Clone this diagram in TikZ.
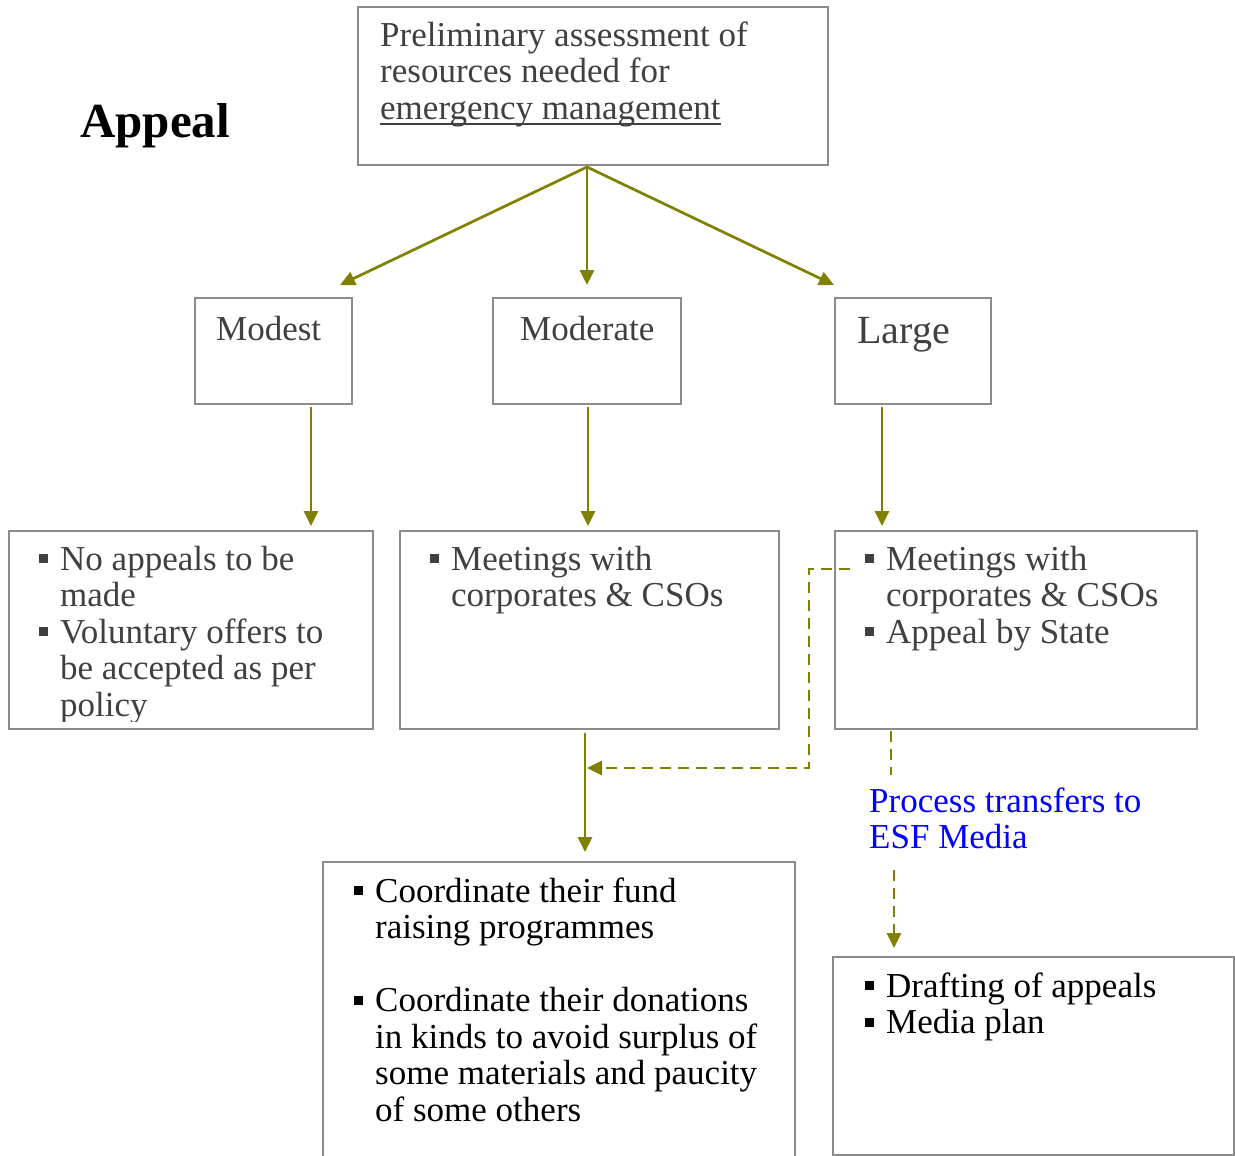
\documentclass[tikz,border=0pt]{standalone}
\usepackage{fontspec}
\setmainfont{Liberation Serif}
\usetikzlibrary{arrows.meta,calc}

\definecolor{olivearrow}{HTML}{808000}
\definecolor{boxgray}{HTML}{8C8C8C}
\definecolor{txtgray}{HTML}{404040}
\definecolor{linkblue}{HTML}{0000FF}

% strut that fixes the top of every text block 30pt above its first baseline
\newcommand\firstln{\rule{0pt}{30pt}}
% square bullet hanging to the left of the text column
\newcommand\bulitem{\llap{\rule[7pt]{9pt}{9pt}\hspace{12pt}}}
% underline that runs through the descenders
\newcommand\ulwords[1]{\setbox0\hbox{#1}\rlap{\rule[-5.5pt]{\wd0}{1.6pt}}\box0}

\begin{document}
\begin{tikzpicture}[x=1pt, y=-1pt,
  box/.style={draw=boxgray, line width=2pt, inner sep=0pt, outer sep=0pt, anchor=north west},
  txt/.style={anchor=north west, inner sep=0pt, align=left,
              font=\fontsize{35}{36.5}\selectfont, text=txtgray},
  dark/.style={txt, text=black},
  arr/.style={draw=olivearrow, line width=2.7pt, -{Triangle[length=15pt,width=14pt]}},
  dsh/.style={arr, dash pattern=on 11pt off 7pt},
  dline/.style={draw=olivearrow, line width=2.7pt, dash pattern=on 11pt off 7pt}]

\useasboundingbox (0,0) rectangle (1235,1156);
\clip (0,0) rectangle (1235,1156);

% boxes
\node[box, minimum width=470pt, minimum height=158pt] (top) at (358,7) {};
\node[box, minimum width=157pt, minimum height=106pt] (modest) at (195,298) {};
\node[box, minimum width=188pt, minimum height=106pt] (moderate) at (493,298) {};
\node[box, minimum width=156pt, minimum height=106pt] (large) at (835,298) {};
\node[box, minimum width=364pt, minimum height=198pt] (l1) at (9,531) {};
\node[box, minimum width=379pt, minimum height=198pt] (m1) at (400,531) {};
\node[box, minimum width=362pt, minimum height=198pt] (r1) at (835,531) {};
\node[box, minimum width=472pt, minimum height=320pt] (m2) at (323,862) {};
\node[box, minimum width=401pt, minimum height=198pt] (r2) at (833,957) {};

% title
\node[anchor=north west, inner sep=0pt, font=\fontsize{49}{52}\selectfont\bfseries]
  (title) at (80,97) {\rule{0pt}{40pt}Appeal};

% texts
\node[txt] (topT) at (380,16) {\firstln Preliminary assessment of\\
  resources needed for\\ \ulwords{emergency management}};
\node[txt] (modestT) at (216,310) {\firstln Modest};
\node[txt] (moderateT) at (520,310) {\firstln Moderate};
\node[txt, font=\fontsize{40}{42}\selectfont] (largeT) at (857,309) {\rule{0pt}{34pt}Large};

\begin{scope}
  \clip (9,531) rectangle (373,721);
  \node[txt] (l1T) at (60,540) {\firstln\bulitem No appeals to be\\ made\\
    \bulitem Voluntary offers to\\ be accepted as per\\ policy};
\end{scope}
\node[txt] (m1T) at (451,540) {\firstln\bulitem Meetings with\\ corporates \& CSOs};
\node[txt] (r1T) at (886,540) {\firstln\bulitem Meetings with\\ corporates \& CSOs\\
  \bulitem Appeal by State};
\node[dark] (m2T) at (375,872) {\firstln\bulitem Coordinate their fund\\ raising programmes\\[36.5pt]
  \bulitem Coordinate their donations\\ in kinds to avoid surplus of\\
  some materials and paucity\\ of some others};
\node[dark] (r2T) at (886,967) {\firstln\bulitem Drafting of appeals\\ \bulitem Media plan};
\node[txt, text=linkblue] (lbl) at (869,782) {\firstln Process transfers to\\ ESF Media};

% fan-out from the assessment box
\coordinate (fan) at ($(top.south)+(-6,2)$);
\draw[arr] (fan) -- ($(modest.north east)+(-12,-13)$);
\draw[arr] (fan) -- ($(moderate.north)+(0,-13)$);
\draw[arr] (fan) -- ($(large.north west)+(-1,-13)$);

% size boxes to their actions
\draw[arr] ($(modest.south)+(37.5,3)$) -- ($(l1.north)+(120,-5)$);
\draw[arr] ($(moderate.south)+(1,3)$) -- ($(m1.north)+(-1.5,-5)$);
\draw[arr] ($(large.south)+(-31,3)$) -- ($(r1.north)+(-134,-5)$);

% actions to coordination
\coordinate (join) at ($(m1.south)+(-4.5,39)$);
\draw[arr] ($(m1.south)+(-4.5,4)$) -- ($(m2.north)+(26,-10)$);
\draw[dsh] ($(r1.north west)+(15,38)$) -- ++(-41,0) |- ($(join)+(2,0)$);

% hand-over to ESF Media
\draw[dline] ($(r1.south west)+(56,2)$) -- ($(r1.south west)+(56,46)$);
\draw[dsh] ($(r2.north west)+(61,-87)$) -- ($(r2.north west)+(61,-9)$);

\end{tikzpicture}
\end{document}
